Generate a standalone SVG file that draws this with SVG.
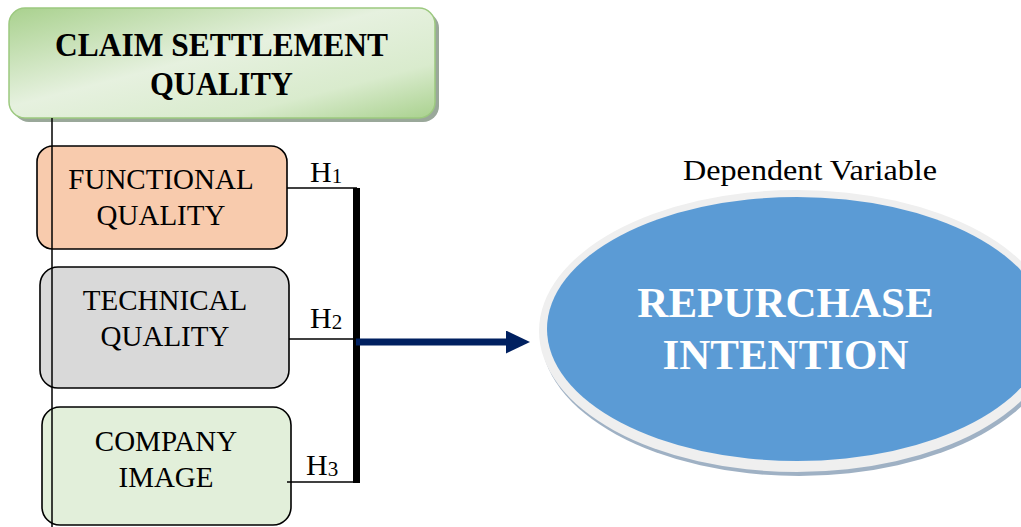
<svg xmlns="http://www.w3.org/2000/svg" width="1021" height="527" viewBox="0 0 1021 527">
<style>
.box{stroke:#000;stroke-width:1.6}
.t{font-family:"Liberation Serif","Times New Roman",serif;fill:#000;text-anchor:middle}
.lbl{font-size:29px}
.h{font-family:"Liberation Serif","Times New Roman",serif;font-size:30px;fill:#000}
.sub{font-size:21px}
.conn{stroke:#000;stroke-width:1.5;fill:none}
</style>
<defs>
<linearGradient id="gTop" x1="0" y1="0" x2="1" y2="1">
<stop offset="0" stop-color="#a9d18e"/>
<stop offset="0.45" stop-color="#e6f1df"/>
<stop offset="0.75" stop-color="#d9ebcd"/>
<stop offset="1" stop-color="#a9d18e"/>
</linearGradient>
<marker id="ah" viewBox="0 0 24 23" refX="0" refY="11.5" markerWidth="24" markerHeight="23" markerUnits="userSpaceOnUse" orient="auto">
<path d="M0,0 L24,11.5 L0,23 Z" fill="#002060"/>
</marker>
</defs>

<g id="claim-settlement-quality">
<rect x="13" y="12" width="426" height="110" rx="16" fill="#9aa89a"/>
<rect x="9" y="8" width="426" height="110" rx="16" fill="url(#gTop)" stroke="#9cc97f" stroke-width="1.5"/>
<text class="t" font-weight="bold" font-size="33" x="221.5" y="56" textLength="333" lengthAdjust="spacingAndGlyphs">CLAIM SETTLEMENT</text>
<text class="t" font-weight="bold" font-size="33" x="221.5" y="95" textLength="143" lengthAdjust="spacingAndGlyphs">QUALITY</text>
</g>

<g id="functional-quality">
<rect class="box" x="37" y="146" width="250" height="103" rx="16" fill="#f8cbad"/>
<text class="t lbl" x="161" y="189">FUNCTIONAL</text>
<text class="t lbl" x="161" y="225">QUALITY</text>
</g>

<g id="technical-quality">
<rect class="box" x="40" y="267" width="249" height="121" rx="18" fill="#d9d9d9"/>
<text class="t lbl" x="165" y="310">TECHNICAL</text>
<text class="t lbl" x="165" y="346">QUALITY</text>
</g>

<g id="company-image">
<rect class="box" x="42" y="407" width="249" height="118" rx="18" fill="#e2efda"/>
<text class="t lbl" x="166" y="451">COMPANY</text>
<text class="t lbl" x="166" y="487">IMAGE</text>
</g>

<g id="repurchase-intention">
<text class="t" font-size="30" x="810" y="180" textLength="254" lengthAdjust="spacingAndGlyphs">Dependent Variable</text>
<ellipse cx="799" cy="335" rx="258" ry="141" fill="#9fb1c4"/>
<ellipse cx="797" cy="331" rx="258" ry="141" fill="#efefef"/>
<ellipse cx="797" cy="329" rx="250" ry="132" fill="#5b9bd5"/>
<text class="t" font-weight="bold" font-size="43" style="fill:#fff" x="785.5" y="317">REPURCHASE</text>
<text class="t" font-weight="bold" font-size="43" style="fill:#fff" x="785.5" y="369">INTENTION</text>
</g>

<g id="connectors">
<line class="conn" x1="52" y1="118" x2="52" y2="527"/>
<polyline class="conn" points="287,188 357,188"/>
<polyline class="conn" points="289,339 357,339"/>
<polyline class="conn" points="287,482 357,482"/>
<rect x="353" y="188" width="7" height="295" fill="#000"/>
<line x1="356" y1="342" x2="506" y2="342" stroke="#002060" stroke-width="7" marker-end="url(#ah)"/>
<text class="h" x="310" y="182">H<tspan class="sub" dy="1">1</tspan></text>
<text class="h" x="310" y="328">H<tspan class="sub" dy="1">2</tspan></text>
<text class="h" x="306" y="475">H<tspan class="sub" dy="1">3</tspan></text>
</g>
</svg>
